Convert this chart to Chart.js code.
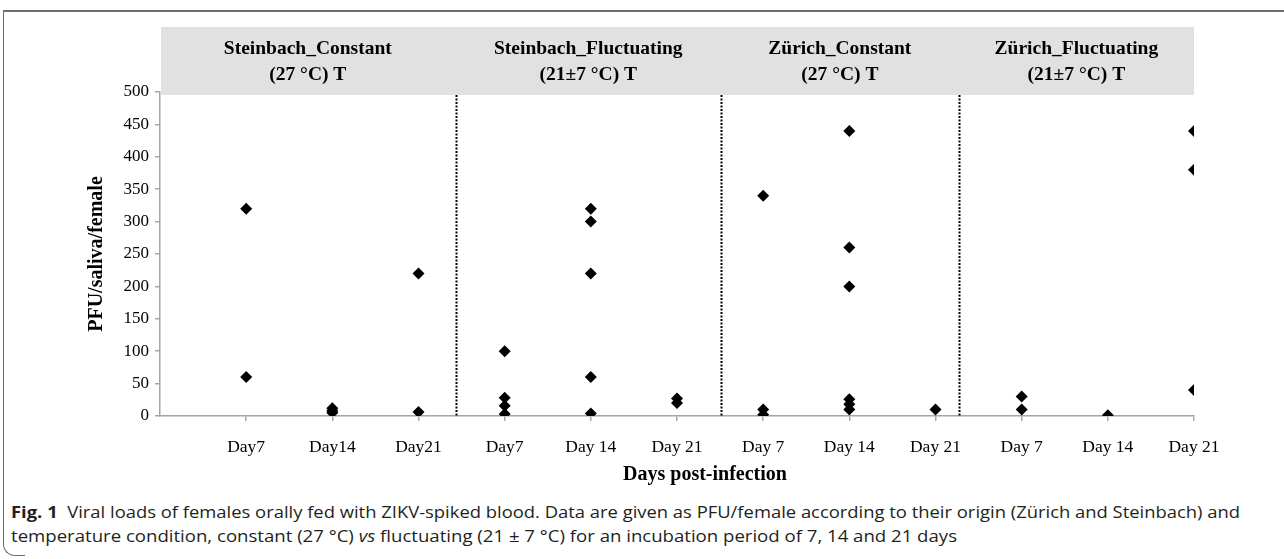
<!DOCTYPE html>
<html>
<head>
<meta charset="utf-8">
<script src="https://cdn.jsdelivr.net/npm/chart.js@4.4.0/dist/chart.umd.min.js"></script>
<style>
  html, body { margin: 0; padding: 0; background: #fff; }
  body { width: 1284px; height: 559px; position: relative; overflow: hidden; }
  #frame { position: absolute; left: 3px; top: 10px; width: 1290px; height: 532px; box-sizing: border-box;
           border-top: 2px solid #6e6e6e; border-left: 1.5px solid #6e6e6e; }
  #corner { position: absolute; left: 3px; top: 536px; width: 22px; height: 20px; box-sizing: border-box;
            border-left: 1.5px solid #6e6e6e; border-bottom: 1.5px solid #6e6e6e; border-bottom-left-radius: 12px; }
  #wrap { position: absolute; left: 0; top: 0; width: 1284px; height: 495px; }
  .cap { position: absolute; left: 11px; white-space: nowrap; font-family: 'Open Sans', 'Noto Sans', sans-serif;
         font-size: 16px; line-height: 20px; color: #231f20; transform-origin: 0 50%; }
  .cap b { font-weight: 700; }
  #cap1 { top: 502px; }
  #cap2 { top: 526px; }
</style>
</head>
<body>
<div id="frame"></div>
<div id="corner"></div>
<div id="wrap"><canvas id="chart" width="1284" height="495"></canvas></div>
<div id="cap1" class="cap"><b>Fig. 1</b>&nbsp; Viral loads of females orally fed with ZIKV-spiked blood. Data are given as PFU/female according to their origin (Zürich and Steinbach) and</div>
<div id="cap2" class="cap">temperature condition, constant (27 °C) <i>vs</i> fluctuating (21 ± 7 °C) for an incubation period of 7, 14 and 21 days</div>

<script>
// --- data ---
const dayLabels = ['Day7', 'Day14', 'Day21', 'Day7', 'Day 14', 'Day 21', 'Day 7', 'Day 14', 'Day 21', 'Day 7', 'Day 14', 'Day 21'];

// PFU per female, one list per day column (left to right)
const steinbachConstant    = [[320, 60], [12, 8, 5], [220, 6]];
const steinbachFluctuating = [[100, 28, 16, 3], [320, 300, 220, 60, 4], [27, 20]];
const zurichConstant       = [[340, 10, 2], [440, 260, 200, 26, 18, 10], [10]];
const zurichFluctuating    = [[30, 10], [1], [440, 380, 40]];

const panelTitles = ['Steinbach_Constant', 'Steinbach_Fluctuating', 'Zürich_Constant', 'Zürich_Fluctuating'];
const panelTemps  = ['(27 °C) T', '(21±7 °C) T', '(27 °C) T', '(21±7 °C) T'];
// dotted separators between panels, in x-axis units
const dividerAt = [3.43, 6.51, 9.27];

const yTicks = { min: 0, max: 500, step: 50 };

const SERIF = "'Liberation Serif', 'Times New Roman', serif";

// build scatter points from the columns
const columns = [].concat(steinbachConstant, steinbachFluctuating, zurichConstant, zurichFluctuating);
const points = [];
columns.forEach((vals, i) => {
  vals.forEach(v => points.push({ x: i + 1, y: v }));
});

// header band, panel titles, dividers, x title
const panelDecor = {
  id: 'panelDecor',
  beforeDraw(chart) {
    const { ctx, chartArea } = chart;
    ctx.save();
    ctx.fillStyle = '#e1e1e1';
    ctx.fillRect(chartArea.left + 1, 27, chartArea.right - chartArea.left - 1, chartArea.top + 3 - 27);
    ctx.restore();
  },
  beforeDatasetsDraw(chart) {
    const { ctx, chartArea, scales: { x } } = chart;
    ctx.save();
    ctx.strokeStyle = '#000';
    ctx.lineWidth = 2;
    ctx.setLineDash([2, 1.5]);
    dividerAt.forEach(d => {
      const px = Math.round(x.getPixelForValue(d)) + 0.5;
      ctx.beginPath();
      ctx.moveTo(px, chartArea.top + 3);
      ctx.lineTo(px, chartArea.bottom);
      ctx.stroke();
    });
    ctx.restore();
  },
  afterDraw(chart) {
    const { ctx, chartArea, scales: { x } } = chart;
    const edges = [x.min].concat(dividerAt, [x.max]);
    ctx.save();
    ctx.fillStyle = '#000';
    ctx.textAlign = 'center';
    ctx.textBaseline = 'middle';
    ctx.font = 'bold 19.5px ' + SERIF;
    panelTitles.forEach((t, i) => {
      const cx = (x.getPixelForValue(edges[i]) + x.getPixelForValue(edges[i + 1])) / 2;
      ctx.fillText(t, cx, 49);
      ctx.fillText(panelTemps[i], cx, 75);
    });
    ctx.font = 'bold 20px ' + SERIF;
    ctx.fillText('Days post-infection', (chartArea.left + chartArea.right) / 2 + 28, 475);
    ctx.restore();
  }
};

new Chart(document.getElementById('chart'), {
  type: 'scatter',
  data: {
    datasets: [{
      label: 'PFU',
      data: points,
      pointStyle: 'rectRot',
      pointRadius: 6,
      pointHoverRadius: 6,
      borderWidth: 0,
      backgroundColor: '#000',
      borderColor: '#000'
    }]
  },
  plugins: [panelDecor],
  options: {
    responsive: false,
    animation: false,
    layout: { padding: { left: 0, top: 92, right: 90, bottom: 0 } },
    plugins: { legend: { display: false }, tooltip: { enabled: false } },
    scales: {
      x: {
        type: 'linear',
        min: 0,
        max: dayLabels.length,
        afterBuildTicks: (scale) => { scale.ticks = dayLabels.map((_, i) => ({ value: i + 1 })); },
        afterFit: (scale) => { scale.height = 79; },
        border: { display: true, color: '#a6a6a6', width: 1.5 },
        grid: { display: true, drawOnChartArea: false, drawTicks: true, tickLength: 5, color: '#a6a6a6', lineWidth: 1.5 },
        ticks: {
          padding: 16,
          maxRotation: 0,
          autoSkip: false,
          color: '#000',
          font: { family: SERIF, size: 17.5 },
          callback: (v) => dayLabels[v - 1]
        }
      },
      y: {
        min: yTicks.min,
        max: yTicks.max,
        afterFit: (scale) => { scale.width = 160; },
        border: { display: true, color: '#a6a6a6', width: 1.5 },
        grid: { display: true, drawOnChartArea: false, drawTicks: true, tickLength: 5, color: '#a6a6a6', lineWidth: 1.5 },
        ticks: {
          stepSize: yTicks.step,
          padding: 6,
          color: '#000',
          font: { family: SERIF, size: 17 }
        },
        title: {
          display: true,
          text: 'PFU/saliva/female',
          color: '#000',
          font: { family: SERIF, size: 20, weight: 'bold' },
          padding: { top: 85, bottom: 0 }
        }
      }
    }
  }
});

// fit the caption lines to the widths they take in the figure
function fitCaption(id, target) {
  const el = document.getElementById(id);
  const w = el.getBoundingClientRect().width;
  if (w > 0) el.style.transform = 'scaleX(' + (target / w) + ')';
}
fitCaption('cap1', 1229);
fitCaption('cap2', 946);
</script>
</body>
</html>
